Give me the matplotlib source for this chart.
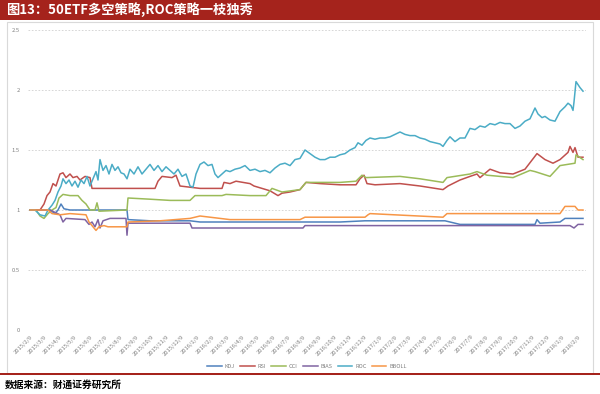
import pandas as pd
import matplotlib
matplotlib.use("Agg")
import matplotlib.pyplot as plt
from matplotlib.patches import Rectangle

plt.rcParams['font.family'] = ['Noto Sans CJK SC', 'DejaVu Sans']

# days since 2015/2/9, value (net value, start = 1)
kdj_x = [0, 40, 50, 56, 62, 68, 80, 194, 196, 240, 320, 340, 540, 620, 670, 740, 830, 860, 1010, 1014, 1020, 1060, 1070, 1106]
kdj_y = [1.0, 1.0, 0.97, 1.0, 1.05, 1.01, 1.0, 1.0, 0.92, 0.91, 0.91, 0.9, 0.9, 0.9, 0.91, 0.91, 0.91, 0.88, 0.88, 0.92, 0.89, 0.9, 0.93, 0.93]

rsi_x = [0, 20, 28, 34, 40, 46, 52, 60, 66, 72, 80, 86, 94, 100, 110, 120, 124, 250, 256, 264, 284, 292, 300, 340,
         384, 388, 400, 412, 440, 448, 464, 480, 496, 504, 520, 540, 552, 580, 620, 652, 660, 668, 674, 690, 740,
         780, 826, 836, 860, 880, 894, 900, 920, 940, 966, 990, 1014, 1030, 1046, 1060, 1076, 1080, 1086, 1090, 1096, 1106]
rsi_y = [1.0, 1.0, 1.05, 1.12, 1.15, 1.22, 1.2, 1.3, 1.31, 1.27, 1.3, 1.27, 1.28, 1.25, 1.28, 1.27, 1.18, 1.18, 1.24, 1.28, 1.27, 1.29, 1.2, 1.18,
         1.18, 1.23, 1.22, 1.24, 1.22, 1.2, 1.18, 1.16, 1.12, 1.14, 1.15, 1.17, 1.23, 1.22, 1.21, 1.21, 1.26, 1.29, 1.22, 1.21, 1.22,
         1.2, 1.17, 1.2, 1.25, 1.28, 1.3, 1.27, 1.34, 1.31, 1.3, 1.34, 1.47, 1.42, 1.39, 1.42, 1.48, 1.53, 1.48, 1.52, 1.44, 1.44]

cci_x = [0, 12, 20, 28, 36, 44, 52, 58, 66, 80, 96, 104, 112, 120, 130, 134, 138, 194, 196, 240, 280, 320, 330, 384, 392,
         440, 472, 484, 504, 540, 552, 620, 652, 664, 672, 740, 780, 826, 834, 880, 894, 914, 966, 1000, 1010, 1040, 1060, 1090, 1092, 1106]
cci_y = [1.0, 1.0, 0.95, 0.93, 0.97, 1.0, 1.02, 1.1, 1.13, 1.12, 1.12, 1.08, 1.05, 1.0, 1.0, 1.06, 0.99, 1.0, 1.1, 1.09, 1.08, 1.08, 1.12, 1.12, 1.13,
         1.12, 1.12, 1.18, 1.15, 1.17, 1.23, 1.23, 1.24, 1.29, 1.27, 1.28, 1.26, 1.23, 1.27, 1.3, 1.32, 1.29, 1.27, 1.33, 1.32, 1.28, 1.37, 1.39, 1.46, 1.42]

bias_x = [0, 40, 50, 60, 66, 72, 110, 118, 124, 130, 136, 140, 146, 160, 192, 194, 196, 320, 324, 546, 550, 1080, 1088, 1096, 1106]
bias_y = [1.0, 1.0, 0.98, 0.96, 0.9, 0.93, 0.92, 0.88, 0.9, 0.86, 0.92, 0.85, 0.91, 0.93, 0.93, 0.79, 0.89, 0.89, 0.85, 0.85, 0.87, 0.87, 0.85, 0.88, 0.88]

roc_x = [0, 10, 20, 30, 36, 44, 50, 56, 62, 66, 72, 78, 84, 90, 96, 102, 108, 114, 120, 126, 132, 136, 140, 146, 152, 158,
         164, 170, 176, 182, 188, 194, 200, 208, 216, 224, 232, 240, 248, 256, 264, 272, 280, 288, 296, 304, 312, 320, 326,
         332, 340, 348, 356, 364, 370, 376, 384, 392, 400, 410, 420, 430, 440, 450, 460, 470, 480, 490, 500, 510, 520, 530,
         540, 550, 560, 570, 580, 590, 600, 610, 620, 630, 640, 650, 656, 664, 672, 680, 690, 700, 710, 720, 730, 740, 750,
         760, 770, 780, 790, 800, 810, 820, 826, 834, 840, 850, 860, 870, 880, 890, 900, 910, 920, 930, 940, 950, 960, 970,
         980, 990, 1000, 1010, 1016, 1024, 1030, 1040, 1050, 1060, 1070, 1076, 1082, 1086, 1088, 1092, 1100, 1106]
roc_y = [1.0, 1.0, 0.96, 0.95, 1.0, 1.04, 1.08, 1.15, 1.2, 1.26, 1.22, 1.25, 1.2, 1.24, 1.19, 1.25, 1.22, 1.28, 1.2, 1.26, 1.32, 1.25, 1.42, 1.33, 1.37, 1.3,
         1.38, 1.33, 1.36, 1.31, 1.3, 1.26, 1.34, 1.3, 1.36, 1.3, 1.34, 1.38, 1.33, 1.37, 1.32, 1.36, 1.33, 1.3, 1.34, 1.28, 1.3, 1.2, 1.19,
         1.3, 1.38, 1.4, 1.37, 1.38, 1.3, 1.27, 1.3, 1.33, 1.32, 1.34, 1.35, 1.37, 1.33, 1.34, 1.32, 1.33, 1.31, 1.35, 1.38, 1.39, 1.37, 1.42,
         1.43, 1.5, 1.47, 1.44, 1.42, 1.42, 1.44, 1.44, 1.46, 1.47, 1.5, 1.52, 1.56, 1.54, 1.58, 1.6, 1.59, 1.6, 1.6, 1.61, 1.63, 1.65, 1.63,
         1.62, 1.62, 1.6, 1.59, 1.57, 1.56, 1.55, 1.53, 1.58, 1.61, 1.57, 1.6, 1.6, 1.68, 1.67, 1.7, 1.69, 1.72, 1.71, 1.73, 1.72, 1.72, 1.68,
         1.7, 1.74, 1.76, 1.85, 1.8, 1.77, 1.78, 1.75, 1.74, 1.82, 1.86, 1.89, 1.87, 1.83, 1.9, 2.07, 2.02, 1.99]

bboll_x = [0, 36, 44, 60, 80, 112, 118, 126, 132, 138, 148, 156, 194, 196, 260, 320, 340, 400, 540, 550, 670, 676, 680,
           826, 834, 1060, 1070, 1090, 1096, 1106]
bboll_y = [1.0, 1.0, 0.97, 0.96, 0.97, 0.96, 0.9, 0.86, 0.83, 0.86, 0.87, 0.86, 0.86, 0.9, 0.91, 0.93, 0.95, 0.92, 0.92, 0.94, 0.94, 0.96, 0.97,
           0.94, 0.97, 0.97, 1.03, 1.03, 1.0, 1.0]

start = pd.Timestamp('2015-02-09')
series = [
    ('KDJ', kdj_x, kdj_y, '#4F81BD'),
    ('RSI', rsi_x, rsi_y, '#C0504D'),
    ('CCI', cci_x, cci_y, '#9BBB59'),
    ('BIAS', bias_x, bias_y, '#8064A2'),
    ('ROC', roc_x, roc_y, '#4BACC6'),
    ('BBOLL', bboll_x, bboll_y, '#F79646'),
]

fig = plt.figure(figsize=(6, 3.94), dpi=100)

# title bar, frame and bottom rule
fig.patches.append(Rectangle((0, 1 - 20 / 394), 1, 20 / 394, transform=fig.transFigure,
                             facecolor='#A5231C', edgecolor='none', zorder=0))
fig.patches.append(Rectangle((7 / 600, 20 / 394), 586 / 600, 352 / 394, transform=fig.transFigure,
                             facecolor='none', edgecolor='#D9D9D9', lw=0.8, zorder=0))
fig.patches.append(Rectangle((0, 19 / 394), 1, 1.6 / 394, transform=fig.transFigure,
                             facecolor='#A5231C', edgecolor='none', zorder=0))
fig.text(6 / 600, 1 - 10 / 394, '图13：50ETF多空策略,ROC策略一枝独秀', color='white',
         fontsize=9.5, fontweight='bold', va='center', ha='left')
fig.text(5 / 600, 9 / 394, '数据来源：财通证券研究所', color='black',
         fontsize=7, fontweight='bold', va='center', ha='left')

ax = fig.add_axes([28 / 600, 64 / 394, 558 / 600, 300 / 394])
for name, xs, ys, c in series:
    dates = start + pd.to_timedelta(xs, unit='D')
    ax.plot(dates, ys, color=c, lw=1.1, label=name)

ax.set_ylim(0, 2.5)
ax.set_yticks([0, 0.5, 1, 1.5, 2, 2.5])
ax.set_yticklabels(['0', '0.5', '1', '1.5', '2', '2.5'])
ax.set_xlim(start - pd.Timedelta(days=4), start + pd.Timedelta(days=1112))
ticks = pd.date_range(start, periods=37, freq=pd.DateOffset(months=1))
ax.set_xticks(ticks)
ax.set_xticklabels([f'{d.year}/{d.month}/{d.day}' for d in ticks], rotation=45,
                   ha='right', rotation_mode='anchor')
ax.tick_params(axis='both', length=0, labelsize=4.2, colors='#808080')
ax.tick_params(axis='y', pad=6)
ax.tick_params(axis='x', pad=3)
ax.grid(axis='y', color='#D0D0D0', ls=(0, (2, 2)), lw=0.6)
for s in ax.spines.values():
    s.set_visible(False)
ax.axhline(0, color='#D9D9D9', lw=0.6)

ax.legend(loc='center', bbox_to_anchor=(0.5, -0.12), ncol=6, frameon=False,
          fontsize=4.0, handlelength=2.6, handletextpad=0.5, columnspacing=1.0,
          labelcolor='#808080')

fig.savefig('out.png', dpi=100)
